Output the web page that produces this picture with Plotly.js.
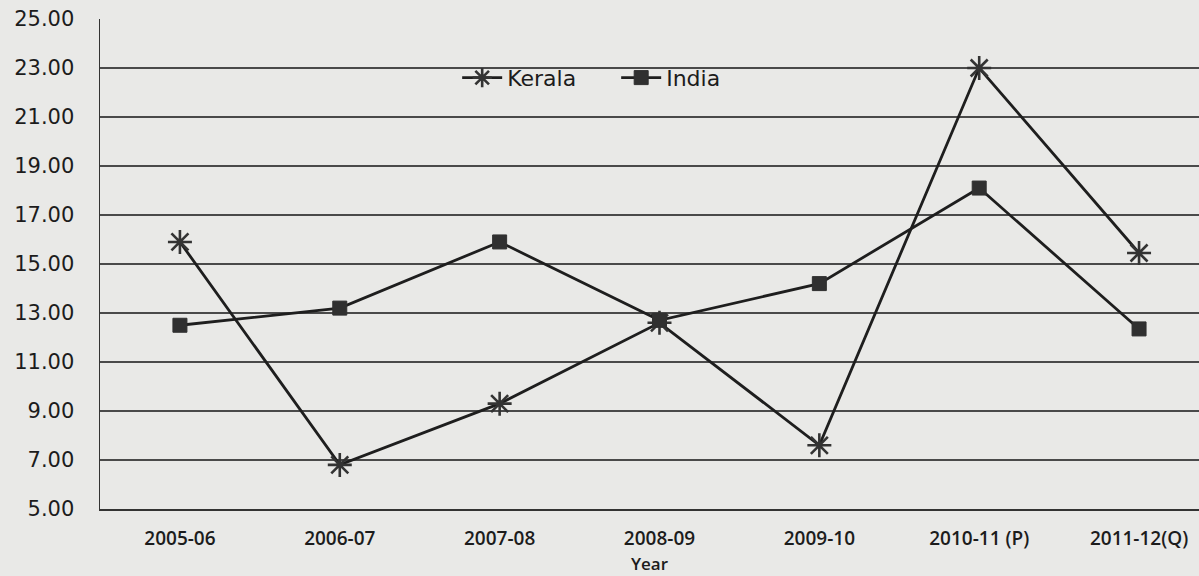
<!DOCTYPE html>
<html>
<head>
<meta charset="utf-8">
<script src="https://cdn.plot.ly/plotly-3.0.1.min.js"></script>
<style>
html,body{margin:0;padding:0;background:#e9e9e7;}
#chart{width:1199px;height:576px;}
</style>
</head>
<body>
<div id="chart"></div>
<script>
var years = ["2005-06", "2006-07", "2007-08", "2008-09", "2009-10", "2010-11 (P)", "2011-12(Q)"];
var kerala = [15.9, 6.8, 9.3, 12.6, 7.6, 23.0, 15.45];
var india = [12.5, 13.2, 15.9, 12.7, 14.2, 18.1, 12.35];
var yTicks = [5, 7, 9, 11, 13, 15, 17, 19, 21, 23, 25];

var lineColor = '#1e1e1e';

var traces = [
  {
    x: years, y: kerala, name: 'Kerala', type: 'scatter', mode: 'lines+markers',
    line: {color: lineColor, width: 2.8},
    marker: {symbol: 'asterisk-open', size: 20, color: '#333', line: {color: '#333', width: 2.6}}
  },
  {
    x: years, y: india, name: 'India', type: 'scatter', mode: 'lines+markers',
    line: {color: lineColor, width: 2.8},
    marker: {symbol: 'square', size: 14, color: '#303030', line: {color: '#303030', width: 1}}
  }
];

var layout = {
  width: 1199, height: 576,
  margin: {l: 100, r: 0, t: 19, b: 67},
  paper_bgcolor: '#e9e9e7',
  plot_bgcolor: '#e9e9e7',
  showlegend: true,
  legend: {
    orientation: 'h', x: 0.325, y: 0.88, xanchor: 'left', yanchor: 'middle',
    bgcolor: 'rgba(0,0,0,0)', font: {family: 'DejaVu Sans', size: 22, color: '#1c1c1c'},
    entrywidth: 104, entrywidthmode: 'pixels',
    itemwidth: 40, tracegroupgap: 0
  },
  xaxis: {
    type: 'category',
    range: [-0.5, 6.375],
    showgrid: false,
    showline: true, linecolor: '#333', linewidth: 1.5,
    mirror: false,
    ticks: '',
    ticklabelstandoff: 12,
    tickfont: {family: 'Open Sans', size: 19, color: '#1c1c1c', weight: 600},
    title: {text: 'Year', font: {family: 'Open Sans', size: 17, color: '#1c1c1c', weight: 600}, standoff: 8},
    fixedrange: true
  },
  yaxis: {
    range: [5, 25],
    tickvals: yTicks,
    tickformat: '.2f',
    showgrid: true, gridcolor: '#4a4a4a', gridwidth: 1.4,
    zeroline: false,
    showline: true, linecolor: '#333', linewidth: 1.5,
    ticks: '',
    ticklabelstandoff: 20,
    tickfont: {family: 'DejaVu Sans', size: 21, color: '#1c1c1c'},
    fixedrange: true
  }
};

Plotly.newPlot('chart', traces, layout, {displayModeBar: false, staticPlot: true});
</script>
</body>
</html>
